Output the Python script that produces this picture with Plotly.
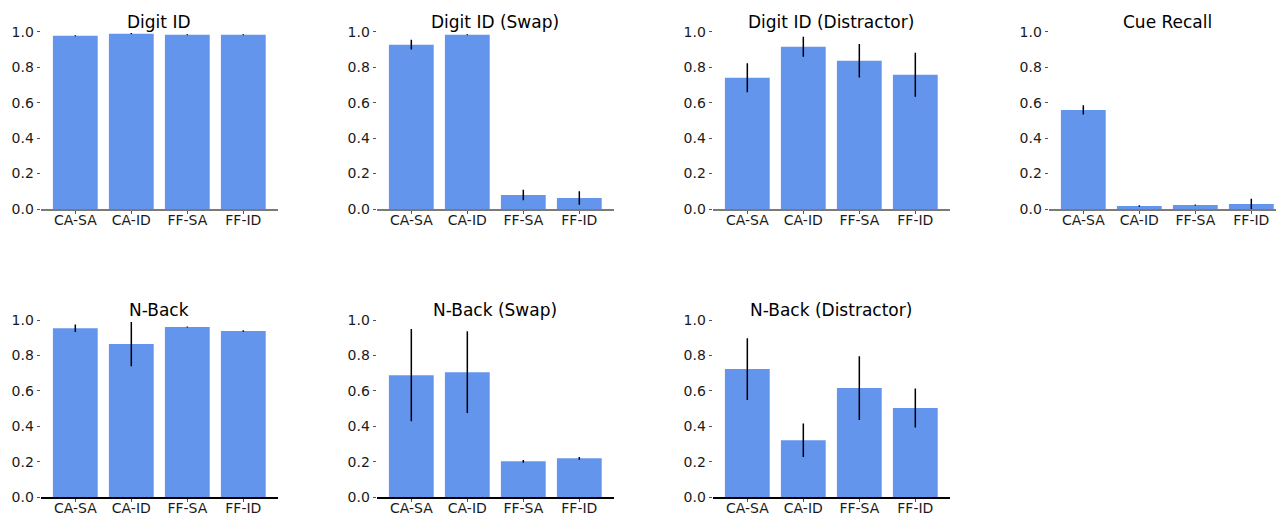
import plotly.graph_objects as go

categories = ["CA-SA", "CA-ID", "FF-SA", "FF-ID"]
titles = ["Digit ID", "Digit ID (Swap)", "Digit ID (Distractor)", "Cue Recall",
          "N-Back", "N-Back (Swap)", "N-Back (Distractor)"]

digit_id = [0.977, 0.989, 0.983, 0.983]
digit_id_err = [0.003, 0.003, 0.003, 0.003]
digit_swap = [0.927, 0.983, 0.079, 0.062]
digit_swap_err = [0.028, 0.003, 0.030, 0.038]
digit_dist = [0.740, 0.915, 0.836, 0.757]
digit_dist_err = [0.082, 0.056, 0.095, 0.124]
cue_recall = [0.559, 0.017, 0.023, 0.028]
cue_recall_err = [0.026, 0.004, 0.003, 0.030]
nback = [0.953, 0.864, 0.960, 0.938]
nback_err = [0.021, 0.125, 0.003, 0.004]
nback_swap = [0.689, 0.706, 0.203, 0.220]
nback_swap_err = [0.260, 0.230, 0.008, 0.008]
nback_dist = [0.723, 0.322, 0.616, 0.503]
nback_dist_err = [0.174, 0.094, 0.180, 0.110]

values = [digit_id, digit_swap, digit_dist, cue_recall, nback, nback_swap, nback_dist]
errors = [digit_id_err, digit_swap_err, digit_dist_err, cue_recall_err,
          nback_err, nback_swap_err, nback_dist_err]

# page has an 8px body margin: figure sized to fit the 1284x514 window
OFF = 8
W, H = 1284 - OFF, 514 - OFF
unit = 56.0                    # px per category
x_lo = -0.62
plot_w = 4.24 * unit
col_left = [40.6 + 336 * c - OFF for c in range(4)]
row_top = [31.7 - OFF, 320 - OFF]
plot_h = 177.3

fig = go.Figure()
layout = dict(
    template="none",
    width=W, height=H, margin=dict(l=0, r=0, t=0, b=0, autoexpand=False),
    paper_bgcolor="white", plot_bgcolor="white", showlegend=False,
    font=dict(family="DejaVu Sans", size=14, color="#1a1a1a"),
    annotations=[],
)

for i, (vals, errs) in enumerate(zip(values, errors)):
    r, c = divmod(i, 4)
    n = i + 1
    sfx = "" if n == 1 else str(n)
    fig.add_trace(go.Bar(
        x=categories, y=vals, width=0.8,
        marker=dict(color="#6495ED", line=dict(width=0)),
        error_y=dict(type="data", array=errs, visible=True, color="black",
                     thickness=1.5, width=0),
        xaxis="x" + sfx, yaxis="y" + sfx, cliponaxis=False,
    ))
    left = col_left[c]
    right = min(W, left + plot_w)
    x0 = left / W
    x1 = right / W
    x_hi = x_lo + (right - left) / unit
    y1 = 1 - row_top[r] / H
    y0 = 1 - (row_top[r] + plot_h) / H
    axis_color = "#7a7a7a" if r == 0 else "black"
    layout["xaxis" + sfx] = dict(
        domain=[x0, x1], anchor="y" + sfx, automargin=False,
        range=[x_lo, x_hi], showline=True, linecolor=axis_color, linewidth=1.5,
        ticks="outside", ticklen=3, tickcolor="#555", tickwidth=1,
        ticklabelstandoff=-6,
        showgrid=False, zeroline=False, fixedrange=True,
        tickfont=dict(size=14, color="#1a1a1a"),
    )
    layout["yaxis" + sfx] = dict(
        domain=[y0, y1], anchor="x" + sfx, automargin=False,
        range=[0, 1.0], showline=False, ticks="outside", ticklen=3,
        tickcolor="#555", tickwidth=1, tickvals=[0, 0.2, 0.4, 0.6, 0.8, 1.0],
        ticktext=["0.0", "0.2", "0.4", "0.6", "0.8", "1.0"],
        showgrid=False, zeroline=False, fixedrange=True,
        tickfont=dict(size=14, color="#1a1a1a"),
    )
    layout["annotations"].append(dict(
        text=titles[i], x=(left + min(left + plot_w, W + 10)) / 2 / W,
        y=y1, xref="paper", yref="paper",
        xanchor="center", yanchor="bottom", yshift=-2, showarrow=False,
        font=dict(size=17, color="black"),
    ))

fig.update_layout(**layout)
fig.write_html("out.html")
